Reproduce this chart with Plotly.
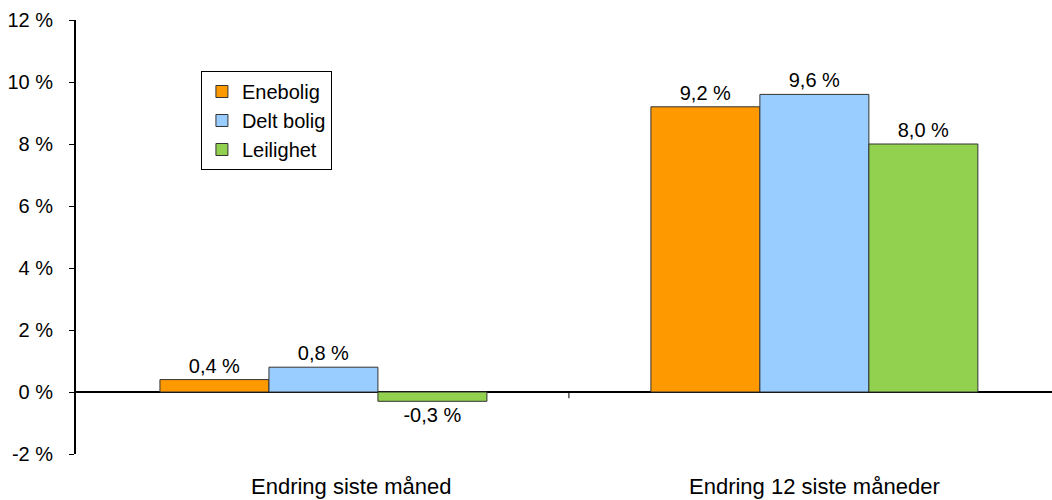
import plotly.graph_objects as go

categories = ["Endring siste måned", "Endring 12 siste måneder"]
series_names = ["Enebolig", "Delt bolig", "Leilighet"]
enebolig = [0.4, 9.2]
delt_bolig = [0.8, 9.6]
leilighet = [-0.3, 8.0]
colors = ["#FF9900", "#99CCFF", "#92D050"]

y_ticks = [-2, 0, 2, 4, 6, 8, 10, 12]
y_tick_labels = [f"{v} %" for v in y_ticks]

# horizontal nudge of each category caption (px)
label_shift = [28, 0]

FONT = "Liberation Sans, Arial, sans-serif"

fig = go.Figure()
for name, vals, col in zip(series_names, [enebolig, delt_bolig, leilighet], colors):
    fig.add_trace(go.Bar(
        name=name,
        x=categories,
        y=vals,
        marker=dict(color=col, line=dict(color="#333333", width=1)),
        text=[f"{v:.1f} %".replace(".", ",") for v in vals],
        textposition="outside",
        cliponaxis=False,
        textfont=dict(family=FONT, size=20, color="black"),
    ))

# small tick mark between the two categories, hanging from the zero line
fig.add_shape(type="line", xref="x", yref="y", x0=0.5, x1=0.5, y0=0, y1=-0.2,
              line=dict(color="black", width=1))

# category captions below the plot area
for cat, dx in zip(categories, label_shift):
    fig.add_annotation(
        x=cat, xref="x", y=0, yref="paper",
        text=cat, showarrow=False,
        xanchor="center", yanchor="top", xshift=dx, yshift=-18,
        font=dict(family=FONT, size=22, color="black"),
    )

fig.update_layout(
    width=1052, height=500,
    margin=dict(l=76, r=0, t=20, b=46),
    plot_bgcolor="white", paper_bgcolor="white",
    barmode="group", bargap=0.334, bargroupgap=0,
    font=dict(family=FONT, size=20, color="black"),
    showlegend=True,
    legend=dict(
        x=0.128, y=0.8825, xanchor="left", yanchor="top",
        bgcolor="white", bordercolor="black", borderwidth=1,
        font=dict(family=FONT, size=20, color="black"),
        tracegroupgap=0, itemwidth=30,
    ),
    xaxis=dict(
        range=[-0.504, 1.484], showline=False, showgrid=False, zeroline=False,
        ticks="", showticklabels=False,
    ),
    yaxis=dict(
        range=[-2, 12], tickvals=y_ticks, ticktext=y_tick_labels,
        showline=True, linecolor="black", linewidth=2,
        ticks="outside", ticklen=5, tickcolor="black", tickwidth=1,
        showgrid=False, zeroline=True, zerolinecolor="black", zerolinewidth=2,
        tickfont=dict(family=FONT, size=20),
        ticklabelstandoff=12,
    ),
)

fig.write_html("out.html")
